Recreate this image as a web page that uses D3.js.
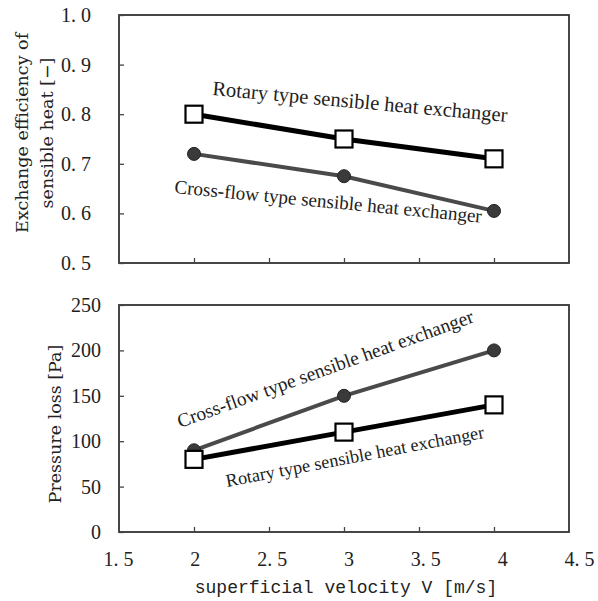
<!DOCTYPE html>
<html>
<head>
<meta charset="utf-8">
<script src="https://cdn.jsdelivr.net/npm/d3@7"></script>
<style>
  body { margin:0; background:#fff; }
  .tick text { font-family:'Liberation Serif', serif; font-size:20px; fill:#222; }
  .lab { font-family:'Liberation Serif', serif; fill:#222; }
  .ytitle { font-family:'DejaVu Serif', serif; font-size:17.5px; fill:#222; }
  .xtitle { font-family:'Liberation Mono', monospace; font-size:18px; fill:#222; }
</style>
</head>
<body>
<div id="canvas"></div>
<script>
// data
var velocity = [2, 3, 4];
var effRotary = [0.80, 0.75, 0.71];
var effCross = [0.72, 0.675, 0.605];
var lossRotary = [80, 110, 140];
var lossCross = [90, 150, 200];
var xTicks = [1.5, 2, 2.5, 3, 3.5, 4, 4.5];
var effTicks = [0.5, 0.6, 0.7, 0.8, 0.9, 1.0];
var lossTicks = [0, 50, 100, 150, 200, 250];

var W = 598, H = 601;
var svg = d3.select('#canvas').append('svg')
    .attr('width', W).attr('height', H);

var x = d3.scaleLinear().domain([1.5, 4.5]).range([119, 569]);
//tick labels under the lower panel sit a bit wider than the ticks
var xLab = d3.scaleLinear().domain([1.5, 4.5]).range([118, 579]);
var yTop = d3.scaleLinear().domain([0.5, 1.0]).range([263, 15]);
var yBot = d3.scaleLinear().domain([0, 250]).range([532, 305]);

function fmtDec(d){ return d3.format('.1f')(d).replace('.', '. '); }
function fmtX(d){ return (d % 1 === 0 ? String(d) : fmtDec(d)); }
function fmtInt(d){ return String(d); }

function panel(y, ticksY, fmtY, padY, rot, cross){
    var g = svg.append('g');
    var y0 = y.range()[0], y1 = y.range()[1];
    //frame
    g.append('rect')
        .attr('x', x.range()[0]).attr('y', y1)
        .attr('width', x.range()[1] - x.range()[0]).attr('height', y0 - y1)
        .style('fill', 'none').style('stroke', '#333').style('stroke-width', 1.8);

    //y axis, inward ticks
    var ya = g.append('g').attr('transform', 'translate(' + x.range()[0] + ',0)')
        .call(d3.axisLeft(y).tickValues(ticksY).tickSize(-5).tickPadding(padY).tickFormat(fmtY));
    ya.select('.domain').remove();
    ya.selectAll('.tick line').style('stroke', '#444').style('stroke-width', 1.3);

    //x axis, inward ticks only
    var xa = g.append('g').attr('transform', 'translate(0,' + y0 + ')')
        .call(d3.axisBottom(x).tickValues(xTicks.slice(1, -1)).tickSize(-5).tickFormat(''));
    xa.select('.domain').remove();
    xa.selectAll('.tick line').style('stroke', '#444').style('stroke-width', 1.3);

    var line = d3.line()
        .x(function(d){ return x(d[0]); })
        .y(function(d){ return y(d[1]); });

    var rotPts = velocity.map(function(v, i){ return [v, rot[i]]; });
    var crossPts = velocity.map(function(v, i){ return [v, cross[i]]; });

    g.append('path').datum(crossPts).attr('d', line)
        .style('fill', 'none').style('stroke', '#4a4a4a').style('stroke-width', 4);
    g.selectAll('.cross').data(crossPts).enter()
        .append('circle').attr('class', 'cross')
        .attr('cx', function(d){ return x(d[0]); })
        .attr('cy', function(d){ return y(d[1]); })
        .attr('r', 6.5)
        .style('fill', '#3a3a3a').style('stroke', '#222').style('stroke-width', 1);

    g.append('path').datum(rotPts).attr('d', line)
        .style('fill', 'none').style('stroke', '#000').style('stroke-width', 5);
    g.selectAll('.rot').data(rotPts).enter()
        .append('rect').attr('class', 'rot')
        .attr('x', function(d){ return x(d[0]) - 8.5; })
        .attr('y', function(d){ return y(d[1]) - 8.5; })
        .attr('width', 17).attr('height', 17)
        .style('fill', '#fff').style('stroke', '#000').style('stroke-width', 2.2);
    return g;
}

panel(yTop, effTicks, fmtDec, 28, effRotary, effCross);
panel(yBot, lossTicks, fmtInt, 18, lossRotary, lossCross);

//x tick labels
var xl = svg.append('g').attr('transform', 'translate(0,' + yBot.range()[0] + ')')
    .call(d3.axisBottom(xLab).tickValues(xTicks).tickSize(0).tickPadding(20).tickFormat(fmtX));
xl.select('.domain').remove();

//series labels
function label(txt, px, py, ang, size){
    svg.append('text').attr('class', 'lab')
        .attr('transform', 'translate(' + px + ',' + py + ') rotate(' + ang + ')')
        .style('font-size', size + 'px')
        .text(txt);
}
label('Rotary type sensible heat exchanger', 212, 95, 5.2, 20.5);
label('Cross-flow type sensible heat exchanger', 174, 193, 5.5, 19.1);
label('Cross-flow type sensible heat exchanger', 180, 428, -19.8, 19.4);
label('Rotary type sensible heat exchanger', 227, 487, -10.8, 18.2);

//axis titles
svg.append('text').attr('class', 'ytitle')
    .attr('transform', 'translate(28,133) rotate(-90)')
    .attr('text-anchor', 'middle').text('Exchange efficiency of');
svg.append('text').attr('class', 'ytitle')
    .attr('transform', 'translate(53,133) rotate(-90)')
    .attr('text-anchor', 'middle').text('sensible heat [\u2212]');
svg.append('text').attr('class', 'ytitle')
    .attr('transform', 'translate(61,424) rotate(-90)')
    .attr('text-anchor', 'middle').text('Pressure loss  [Pa]');
svg.append('text').attr('class', 'xtitle')
    .attr('x', 346).attr('y', 593)
    .attr('text-anchor', 'middle').text('superficial velocity V  [m/s]');
</script>
</body>
</html>
